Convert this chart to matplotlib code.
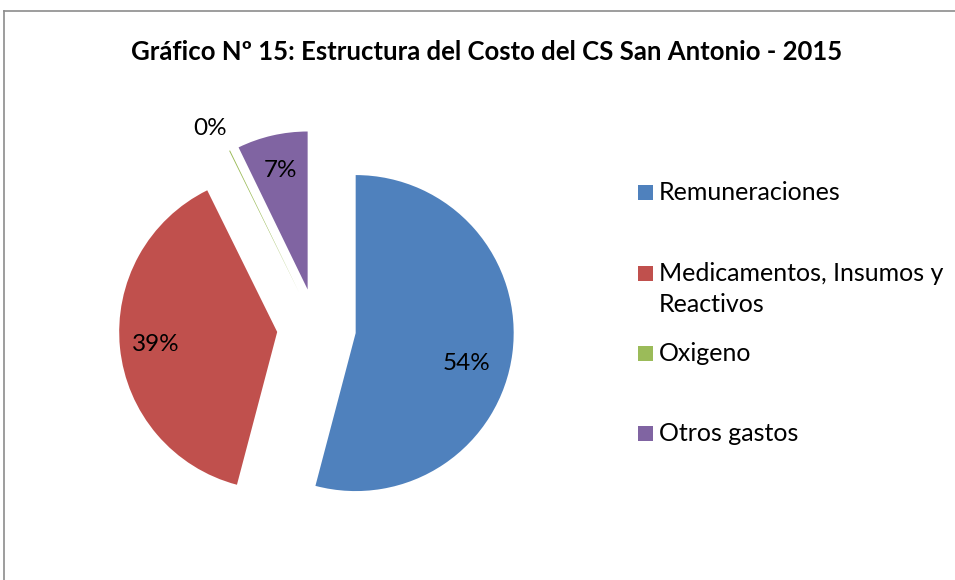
import matplotlib

matplotlib.use("Agg")
import numpy as np
import matplotlib.pyplot as plt
from matplotlib.lines import Line2D
from matplotlib.patches import Rectangle

categories = ["Remuneraciones", "Medicamentos, Insumos y\nReactivos", "Oxigeno", "Otros gastos"]
shares = [54.1, 38.6, 0.1, 7.2]
colors = ["#4F81BD", "#C0504D", "#9BBB59", "#8064A2"]
title = "Gráfico Nº 15: Estructura del Costo del CS San Antonio - 2015"

plt.rcParams["font.family"] = ["Lato", "DejaVu Sans"]

W, H = 955, 580
fig = plt.figure(figsize=(W / 100, H / 100), dpi=100)

# chart frame (gray, runs off the right and bottom edges)
fig.add_artist(Line2D([4 / W, 1], [1 - 11 / H, 1 - 11 / H], color="#8C8C8C", lw=1.2))
fig.add_artist(Line2D([4 / W, 4 / W], [0, 1 - 11 / H], color="#8C8C8C", lw=1.2))

fig.text(487 / W, 1 - 52 / H, title, ha="center", va="center",
         fontsize=18.5, fontweight="bold")

# pie axes: 1 data unit = 158 px, centre at (316, 328)
r_px = 158
cx, cy = 316.5, 328
half = 1.5 * r_px
ax = fig.add_axes([(cx - half) / W, (H - cy - half) / H, 2 * half / W, 2 * half / H])

wedges, texts, autotexts = ax.pie(
    shares,
    colors=colors,
    startangle=90,
    counterclock=False,
    explode=[0.25] * len(shares),
    autopct="%.0f%%",
    pctdistance=0.77,
    textprops={"fontsize": 17.5, "color": "black"},
    wedgeprops={"linewidth": 0},
)
ax.set_xlim(-1.5, 1.5)
ax.set_ylim(-1.5, 1.5)
ax.set_aspect("equal")
ax.axis("off")


def place(i, dist, turn_deg):
    w = wedges[i]
    ang = np.deg2rad((w.theta1 + w.theta2) / 2 + turn_deg)
    x0, y0 = w.center
    autotexts[i].set_position((x0 + dist * np.cos(ang), y0 + dist * np.sin(ang)))


place(0, 0.73, -8)    # Excel nudged the big label down a bit
place(2, 1.18, 2.5)   # tiny Oxigeno label sits outside its slice

# legend, drawn by hand so the marker sits on the first text line
row_y = [192, 273, 353, 433]
line_step = 31
for name, col, y in zip(categories, colors, row_y):
    fig.add_artist(Rectangle((638 / W, 1 - (y + 7.5) / H), 15 / W, 15 / H,
                             facecolor=col, edgecolor="none"))
    for k, part in enumerate(name.split("\n")):
        fig.text(659 / W, 1 - (y + 8 + k * line_step) / H, part, ha="left",
                 va="baseline", fontsize=18)

fig.savefig("out.png", dpi=100)
